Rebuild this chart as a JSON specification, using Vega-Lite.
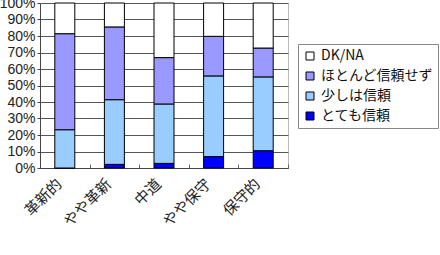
{
  "$schema": "https://vega.github.io/schema/vega-lite/v6.json",
  "autosize": "none",
  "width": 248,
  "height": 165,
  "padding": {"left": 40, "top": 3, "right": 152, "bottom": 87},
  "background": "white",
  "config": {
    "view": {"stroke": "#bbbbbb", "strokeWidth": 1},
    "axis": {"labelColor": "#222222"}
  },
  "data": {
    "values": [
      {"cat": "革新的", "series": "とても信頼", "v": 0},
      {"cat": "革新的", "series": "少しは信頼", "v": 23.2},
      {"cat": "革新的", "series": "ほとんど信頼せず", "v": 58.2},
      {"cat": "革新的", "series": "DK/NA", "v": 18.6},
      {"cat": "やや革新", "series": "とても信頼", "v": 2.2},
      {"cat": "やや革新", "series": "少しは信頼", "v": 39.2},
      {"cat": "やや革新", "series": "ほとんど信頼せず", "v": 44.1},
      {"cat": "やや革新", "series": "DK/NA", "v": 14.5},
      {"cat": "中道", "series": "とても信頼", "v": 2.8},
      {"cat": "中道", "series": "少しは信頼", "v": 36.0},
      {"cat": "中道", "series": "ほとんど信頼せず", "v": 28.1},
      {"cat": "中道", "series": "DK/NA", "v": 33.1},
      {"cat": "やや保守", "series": "とても信頼", "v": 6.9},
      {"cat": "やや保守", "series": "少しは信頼", "v": 48.9},
      {"cat": "やや保守", "series": "ほとんど信頼せず", "v": 24.0},
      {"cat": "やや保守", "series": "DK/NA", "v": 20.2},
      {"cat": "保守的", "series": "とても信頼", "v": 10.5},
      {"cat": "保守的", "series": "少しは信頼", "v": 44.7},
      {"cat": "保守的", "series": "ほとんど信頼せず", "v": 17.5},
      {"cat": "保守的", "series": "DK/NA", "v": 27.3}
    ]
  },
  "transform": [
    {"calculate": "indexof(['とても信頼','少しは信頼','ほとんど信頼せず','DK/NA'], datum.series)", "as": "stackOrder"}
  ],
  "mark": {"type": "bar", "size": 20, "stroke": "black", "strokeWidth": 1},
  "encoding": {
    "x": {
      "field": "cat",
      "type": "nominal",
      "sort": ["革新的", "やや革新", "中道", "やや保守", "保守的"],
      "scale": {"paddingInner": 0, "paddingOuter": 0},
      "axis": {
        "title": null,
        "labelAngle": -45,
        "labelAlign": "right",
        "labelBaseline": "middle",
        "labelFont": "Noto Sans CJK JP",
        "labelFontSize": 15,
        "labelPadding": 17,
        "labelOffset": -6,
        "tickBand": "extent",
        "tickSize": -4,
        "tickColor": "#666666",
        "domainColor": "#444444",
        "grid": false
      }
    },
    "y": {
      "field": "v",
      "type": "quantitative",
      "stack": "zero",
      "scale": {"domain": [0, 100]},
      "axis": {
        "title": null,
        "values": [0, 10, 20, 30, 40, 50, 60, 70, 80, 90, 100],
        "labelExpr": "datum.value + '%'",
        "labelFont": "Liberation Sans Narrow, Liberation Sans, sans-serif",
        "labelFontSize": 14,
        "labelPadding": 2,
        "tickSize": 3,
        "tickColor": "#444444",
        "domainColor": "#444444",
        "gridColor": "#555555",
        "gridWidth": 1
      }
    },
    "order": {"field": "stackOrder", "type": "quantitative", "sort": "ascending"},
    "color": {
      "field": "series",
      "type": "nominal",
      "scale": {
        "domain": ["DK/NA", "ほとんど信頼せず", "少しは信頼", "とても信頼"],
        "range": ["#ffffff", "#9999ff", "#99ccff", "#0000ff"]
      },
      "legend": {
        "title": null,
        "orient": "none",
        "legendX": 258,
        "legendY": 41,
        "symbolType": "square",
        "symbolSize": 64,
        "symbolStrokeColor": "black",
        "symbolStrokeWidth": 1,
        "symbolOpacity": 1,
        "labelFont": "Noto Sans CJK JP",
        "labelFontSize": 14,
        "labelOffset": 4,
        "labelColor": "#111111",
        "labelLimit": 200,
        "rowPadding": 6,
        "padding": 5,
        "strokeColor": "#888888",
        "fillColor": "white"
      }
    }
  }
}
